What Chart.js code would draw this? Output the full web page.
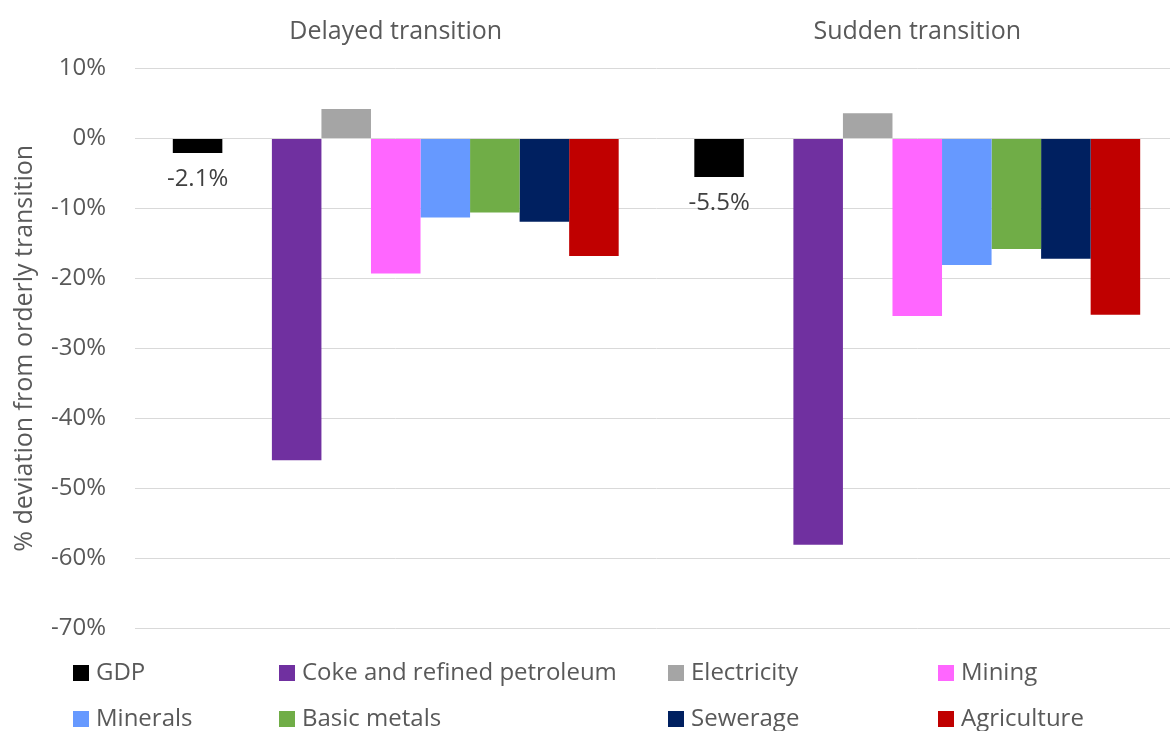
<!DOCTYPE html>
<html>
<head>
<meta charset="utf-8">
<script src="https://cdn.jsdelivr.net/npm/chart.js@4"></script>
<style>
  html, body { margin: 0; padding: 0; background: #fff; overflow: hidden; }
  #wrap { position: relative; width: 1170px; height: 731px; overflow: hidden; }
  #legend {
    position: absolute; left: 73px; top: 650px;
    display: grid; grid-template-columns: 206px 389px 270px 200px;
    grid-auto-rows: 46px;
    font-family: "Open Sans", Lato, sans-serif; font-size: 24px; color: #595959;
  }
  .item { display: flex; align-items: center; white-space: nowrap; }
  .item span:last-child { line-height: 1; position: relative; top: -2px; }
  .box { width: 16px; height: 16px; margin-right: 7px; flex: none; }
</style>
</head>
<body>
<div id="wrap">
  <canvas id="chart" width="1180" height="731"></canvas>
  <div id="legend"></div>
</div>
<script>
// Chart data
const categories = ['Delayed transition', 'Sudden transition'];
const gdp = [-2.1, -5.5];
const coke = [-46.0, -58.1];
const electricity = [4.2, 3.6];
const mining = [-19.3, -25.4];
const minerals = [-11.3, -18.1];
const basicMetals = [-10.6, -15.8];
const sewerage = [-11.9, -17.2];
const agriculture = [-16.8, -25.2];
const yTicks = [10, 0, -10, -20, -30, -40, -50, -60, -70];

const font = '"Open Sans", Lato, sans-serif';
const textGrey = '#595959';

// GDP bar gets its value written under it
const gdpLabels = {
    id: 'gdpLabels',
    afterDatasetsDraw(chart) {
        const ctx = chart.ctx;
        const meta = chart.getDatasetMeta(0);
        ctx.save();
        ctx.font = '24px ' + font;
        ctx.fillStyle = '#404040';
        ctx.textAlign = 'center';
        ctx.textBaseline = 'middle';
        meta.data.forEach((bar, i) => {
            const v = chart.data.datasets[0].data[i];
            ctx.fillText(v.toFixed(1) + '%', bar.x, bar.y + 26);
        });
        ctx.restore();
    }
};

const chart = new Chart(document.getElementById('chart'), {
    type: 'bar',
    data: {
        labels: categories,
        datasets: [
            { label: 'GDP', data: gdp, backgroundColor: '#000000' },
            { label: '', data: [null, null], backgroundColor: 'rgba(0,0,0,0)' }, // empty slot
            { label: 'Coke and refined petroleum', data: coke, backgroundColor: '#7030A0' },
            { label: 'Electricity', data: electricity, backgroundColor: '#A5A5A5' },
            { label: 'Mining', data: mining, backgroundColor: '#FF66FF' },
            { label: 'Minerals', data: minerals, backgroundColor: '#6699FF' },
            { label: 'Basic metals', data: basicMetals, backgroundColor: '#70AD47' },
            { label: 'Sewerage', data: sewerage, backgroundColor: '#002060' },
            { label: 'Agriculture', data: agriculture, backgroundColor: '#C00000' }
        ]
    },
    options: {
        responsive: false,
        animation: false,
        categoryPercentage: 0.855,
        barPercentage: 1,
        layout: { padding: { top: 10, left: 10, right: 2, bottom: 103 } },
        scales: {
            x: {
                position: 'top',
                grid: { display: false },
                border: { display: false },
                ticks: { font: { family: font, size: 25 }, color: textGrey, padding: 14 },
                afterFit: s => { s.height = 58.5; }
            },
            y: {
                min: -70,
                max: 10,
                afterBuildTicks: s => { s.ticks = yTicks.map(v => ({ value: v })); },
                grid: { color: '#D9D9D9', lineWidth: 1, drawTicks: false },
                border: { display: false },
                ticks: {
                    font: { family: font, size: 24 },
                    color: textGrey,
                    padding: 29,
                    callback: v => v + '%'
                },
                title: {
                    display: true,
                    text: '% deviation from orderly transition',
                    font: { family: font, size: 25 },
                    color: textGrey,
                    padding: { top: 0, bottom: 4 }
                },
                afterFit: s => { s.width = 125; }
            }
        },
        plugins: {
            legend: { display: false },
            tooltip: { enabled: false }
        }
    },
    plugins: [gdpLabels]
});

// HTML legend, two rows of four
const legendEl = document.getElementById('legend');
chart.data.datasets.filter(d => d.label).forEach(d => {
    const item = document.createElement('div');
    item.className = 'item';
    item.innerHTML = `<span class="box" style="background:${d.backgroundColor}"></span><span>${d.label}</span>`;
    legendEl.appendChild(item);
});
</script>
</body>
</html>
